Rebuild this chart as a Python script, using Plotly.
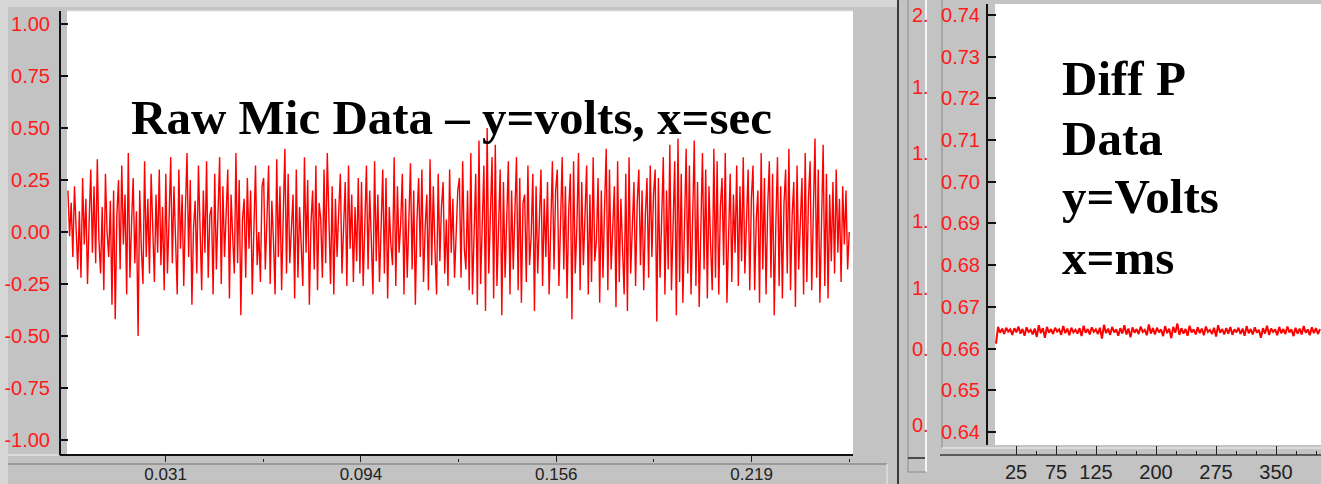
import numpy as np
import plotly.graph_objects as go

W, H = 1321, 484


def px(x):
    return x / W


def py(y):
    return 1 - y / H


# ---------------- data ----------------
mic_volts = [
    0.20, -0.02, 0.14, -0.12, 0.22, 0.02, -0.18, 0.10, -0.22, 0.26, -0.06, 0.16, -0.25, 0.05, 0.30,
    -0.10, 0.22, -0.15, 0.35, -0.04, -0.20, 0.12, -0.28, 0.28, 0.00, -0.12, 0.15, -0.35, 0.20, -0.42,
    0.08, 0.25, -0.18, 0.32, -0.06, 0.18, -0.30, 0.38, -0.22, 0.04, 0.26, -0.15, 0.10, -0.50, 0.20,
    -0.08, -0.25, 0.34, -0.12, 0.16, -0.20, 0.28, 0.02, -0.24, 0.18, -0.10, 0.30, -0.16, 0.12, -0.28,
    0.28, -0.20, 0.06, 0.36, -0.15, 0.22, -0.04, -0.30, 0.30, -0.08, 0.18, -0.26, 0.10, 0.38, -0.12,
    0.25, -0.35, 0.02, 0.15, -0.20, 0.32, -0.06, -0.28, 0.20, -0.10, 0.34, -0.22, 0.08, 0.12, -0.30,
    0.28, -0.18, 0.04, 0.36, -0.25, 0.22, -0.12, 0.14, 0.30, -0.32, 0.18, -0.02, -0.20, 0.38, -0.15,
    0.25, -0.40, 0.06, 0.16, -0.22, 0.26, -0.08, 0.20, -0.30, 0.10, 0.32, -0.16, 0.00, -0.24, 0.22,
    0.26, -0.18, 0.06, 0.32, -0.25, 0.15, -0.04, -0.30, 0.35, -0.12, 0.22, -0.28, 0.08, 0.40, -0.20,
    0.28, -0.15, 0.02, 0.18, -0.32, 0.30, -0.22, 0.12, -0.06, -0.26, 0.36, -0.10, 0.25, -0.35, 0.04,
    0.20, -0.18, 0.32, -0.28, 0.14, 0.06, -0.22, 0.30, -0.15, 0.38, -0.02, -0.25, 0.22, -0.30, 0.16,
    -0.12, 0.10, 0.28, -0.20, 0.02, 0.24, -0.26, 0.32, -0.08, 0.18, -0.24, 0.12, -0.14, 0.26, -0.20,
    0.24, -0.26, 0.08, 0.32, -0.18, 0.20, -0.04, -0.30, 0.34, -0.14, 0.18, -0.24, 0.02, 0.30, -0.20,
    0.26, -0.32, 0.12, -0.06, -0.16, 0.36, -0.26, 0.22, -0.10, 0.04, 0.28, -0.30, 0.16, -0.22, 0.10,
    0.33, -0.18, 0.20, -0.35, 0.06, 0.26, -0.12, 0.30, -0.24, 0.02, 0.18, -0.28, 0.35, -0.16, 0.22,
    -0.08, -0.30, 0.28, -0.14, 0.12, 0.24, -0.20, 0.06, -0.26, 0.30, -0.10, 0.16, -0.22, 0.04, 0.20,
    0.26, -0.22, 0.34, -0.08, -0.18, 0.20, -0.28, 0.38, -0.30, 0.06, 0.28, -0.35, 0.44, -0.25, 0.12,
    0.32, -0.38, 0.50, -0.20, 0.04, 0.36, -0.32, 0.42, -0.26, 0.10, 0.30, -0.40, 0.24, -0.22, 0.02,
    0.34, -0.30, 0.20, -0.18, 0.08, 0.36, -0.28, 0.26, -0.34, 0.14, 0.18, -0.24, 0.32, -0.16, -0.02,
    0.28, -0.38, 0.22, -0.20, 0.10, 0.30, -0.26, 0.16, -0.12, 0.24, -0.30, 0.06, 0.34, -0.18, 0.20,
    0.30, -0.26, 0.04, 0.36, -0.18, 0.22, -0.32, 0.10, 0.28, -0.42, 0.34, -0.20, 0.02, 0.38, -0.28,
    0.24, -0.16, 0.08, 0.32, -0.30, 0.18, -0.24, 0.36, -0.14, -0.04, 0.26, -0.34, 0.20, -0.22, 0.12,
    0.40, -0.28, 0.30, -0.18, 0.06, 0.22, -0.36, 0.34, -0.24, 0.16, -0.08, -0.30, 0.28, -0.38, 0.36,
    -0.20, 0.02, 0.24, -0.26, 0.14, 0.30, -0.16, 0.20, -0.28, 0.08, 0.26, -0.22, 0.32, -0.12, 0.18,
    0.30, -0.43, 0.26, -0.22, 0.06, 0.36, -0.30, 0.20, -0.18, 0.42, -0.28, 0.10, 0.34, -0.40, 0.45,
    -0.24, 0.28, -0.34, 0.02, 0.40, -0.20, 0.32, -0.30, 0.14, 0.44, -0.26, 0.24, -0.36, 0.08, 0.38,
    -0.18, 0.30, -0.32, 0.22, -0.06, -0.28, 0.40, -0.22, 0.34, -0.30, 0.12, 0.26, -0.16, 0.38, -0.34,
    0.04, 0.28, -0.24, 0.18, -0.10, 0.32, -0.26, 0.22, -0.14, 0.36, -0.20, 0.10, 0.30, -0.28, 0.16,
    0.32, -0.28, 0.06, 0.20, -0.34, 0.38, -0.18, 0.26, -0.30, 0.12, 0.34, -0.22, 0.28, -0.40, 0.04,
    0.36, -0.26, 0.22, -0.32, 0.14, 0.30, -0.20, 0.40, -0.28, 0.08, 0.24, -0.36, 0.32, -0.18, 0.02,
    0.26, -0.30, 0.38, -0.24, 0.16, 0.34, -0.28, 0.10, 0.45, -0.22, 0.30, -0.34, 0.06, 0.42, -0.26,
    0.28, -0.32, 0.18, -0.14, 0.24, -0.20, 0.30, -0.10, 0.16, -0.24, 0.22, -0.06, 0.20, -0.18, 0.00,
]
mic_time = np.linspace(0.0, 0.25, len(mic_volts))

diffp_volts = [
    0.6612, 0.6652, 0.6638, 0.6648, 0.6635, 0.6650, 0.6641, 0.6646, 0.6633, 0.6649,
    0.6639, 0.6653, 0.6636, 0.6647, 0.6631, 0.6651, 0.6640, 0.6645, 0.6634, 0.6648,
    0.6628, 0.6656, 0.6637, 0.6649, 0.6626, 0.6652, 0.6638, 0.6647, 0.6635, 0.6650,
    0.6641, 0.6646, 0.6633, 0.6654, 0.6637, 0.6648, 0.6632, 0.6650, 0.6639, 0.6645,
    0.6636, 0.6649, 0.6630, 0.6655, 0.6638, 0.6647, 0.6634, 0.6651, 0.6640, 0.6646,
    0.6635, 0.6650, 0.6624, 0.6657, 0.6637, 0.6648, 0.6633, 0.6652, 0.6639, 0.6646,
    0.6631, 0.6649, 0.6636, 0.6656, 0.6634, 0.6648, 0.6627, 0.6651, 0.6638, 0.6647,
    0.6635, 0.6653, 0.6640, 0.6645, 0.6632, 0.6658, 0.6636, 0.6649, 0.6634, 0.6650,
    0.6639, 0.6646, 0.6630, 0.6654, 0.6637, 0.6648, 0.6625, 0.6652, 0.6638, 0.6660,
    0.6633, 0.6649, 0.6636, 0.6647, 0.6631, 0.6655, 0.6639, 0.6646, 0.6634, 0.6651,
    0.6637, 0.6648, 0.6632, 0.6653, 0.6640, 0.6645, 0.6635, 0.6650, 0.6629, 0.6656,
    0.6638, 0.6647, 0.6634, 0.6649, 0.6636, 0.6652, 0.6633, 0.6646, 0.6639, 0.6650,
    0.6635, 0.6648, 0.6631, 0.6654, 0.6637, 0.6647, 0.6634, 0.6651, 0.6638, 0.6645,
    0.6626, 0.6649, 0.6636, 0.6655, 0.6633, 0.6648, 0.6640, 0.6646, 0.6632, 0.6652,
    0.6637, 0.6647, 0.6635, 0.6653, 0.6639, 0.6646, 0.6630, 0.6650, 0.6636, 0.6648,
    0.6634, 0.6654, 0.6638, 0.6646, 0.6632, 0.6651, 0.6637, 0.6649, 0.6635, 0.6647,
]
diffp_ms = np.linspace(0.0, 405.0, len(diffp_volts))

mic_yticks = [1.0, 0.75, 0.5, 0.25, 0.0, -0.25, -0.5, -0.75, -1.0]
mic_ytext = ["1.00", "0.75", "0.50", "0.25", "0.00", "-0.25", "-0.50", "-0.75", "-1.00"]
mic_xticks = [0.03125, 0.09375, 0.15625, 0.21875]
mic_xtext = ["0.031", "0.094", "0.156", "0.219"]
mic_xminor = [0.0625, 0.125, 0.1875, 0.25]

diffp_yticks = [0.74, 0.73, 0.72, 0.71, 0.70, 0.69, 0.68, 0.67, 0.66, 0.65, 0.64]
diffp_ytext = ["0.74", "0.73", "0.72", "0.71", "0.70", "0.69", "0.68", "0.67", "0.66", "0.65", "0.64"]
diffp_xticks = [25, 75, 125, 200, 275, 350]
diffp_xtext = ["25", "75", "125", "200", "275", "350"]
diffp_xminor = [50, 100, 150, 175, 225, 250, 300, 325, 375, 400]

side_labels = ["2.", "1.", "1.", "1.", "1.", "0.", "0."]

title_left = "Raw Mic Data \u2013 y=volts, x=sec"
title_right = ["Diff P", "Data", "y=Volts", "x=ms"]

# ---------------- figure ----------------
RED = "#ff1a1a"
PANEL = "#c3c3c3"
TICKFONT = "Liberation Sans"
TSIZE = 20

fig = go.Figure()
fig.add_trace(go.Scatter(x=mic_time, y=mic_volts, mode="lines",
                         line=dict(color="#ff0000", width=1.4),
                         xaxis="x", yaxis="y", showlegend=False, hoverinfo="skip"))
fig.add_trace(go.Scatter(x=diffp_ms, y=diffp_volts, mode="lines",
                         line=dict(color="#ff0000", width=2),
                         xaxis="x2", yaxis="y2", showlegend=False, hoverinfo="skip"))

shapes = []


def rect(x0, y0, x1, y1, fill):
    shapes.append(dict(type="rect", xref="paper", yref="paper", layer="below",
                       x0=px(x0), x1=px(x1), y0=py(y1), y1=py(y0),
                       fillcolor=fill, line=dict(width=0)))


def seg(x0, y0, x1, y1, color, width=1):
    shapes.append(dict(type="line", xref="paper", yref="paper", layer="below",
                       x0=px(x0), x1=px(x1), y0=py(y0), y1=py(y1),
                       line=dict(color=color, width=width)))


# panels
rect(8, 7, 898, 484, PANEL)
rect(898, 0, 1321, 484, PANEL)
# plot areas
rect(67, 11, 853, 455, "white")
rect(995, 4, 1321, 445, "white")
# frame / separator lines
seg(67, 11, 853, 11, "#e6e6e6", 1)
seg(60, 455, 853, 455, "#111111", 2)
seg(8, 455, 58, 455, "#f2f2f2", 1)
seg(8, 464, 887, 464, "#707070", 1)
seg(887, 464, 887, 484, "#eeeeee", 1)
seg(898, 0, 898, 484, "#3a3a3a", 2)
seg(908, 0, 908, 472, "#8a8a8a", 1)
seg(926, 0, 926, 472, "#f6f6f6", 2)
seg(908, 458, 925, 458, "#222222", 1.5)
seg(908, 472, 926, 472, "#8a8a8a", 1)
seg(942, 0, 942, 448, "#8a8a8a", 1)
seg(942, 448, 1321, 448, "#f2f2f2", 1)
seg(940, 455, 1321, 455, "#3a3a3a", 1.5)

annotations = []
annotations.append(dict(xref="paper", yref="paper", x=px(129), y=py(117),
                        xanchor="left", yanchor="middle", showarrow=False,
                        text=title_left,
                        font=dict(family="Liberation Serif", size=49, color="black", weight=700)))
right_line_y = [78, 138, 197, 257]
for txt, yy in zip(title_right, right_line_y):
    annotations.append(dict(xref="paper", yref="paper", x=px(1060), y=py(yy),
                            xanchor="left", yanchor="middle", showarrow=False, text=txt,
                            font=dict(family="Liberation Serif", size=49, color="black", weight=700)))
side_label_y = [15, 87, 153, 221, 288, 349, 425]
for txt, yy in zip(side_labels, side_label_y):
    annotations.append(dict(xref="paper", yref="paper", x=px(910), y=py(yy),
                            xanchor="left", yanchor="middle", showarrow=False, text=txt,
                            font=dict(family=TICKFONT, size=TSIZE, color=RED)))

fig.update_layout(
    width=W, height=H,
    margin=dict(l=0, r=0, t=0, b=0, pad=0, autoexpand=False),
    paper_bgcolor="#d7d7d7",
    plot_bgcolor="rgba(0,0,0,0)",
    shapes=shapes,
    annotations=annotations,
    xaxis=dict(domain=[px(67), px(853)], anchor="free", position=py(462), automargin=False,
               range=[-0.0003, 0.2512], showgrid=False, zeroline=False,
               showline=False, ticks="inside", ticklen=7, tickwidth=1.2, tickcolor="#222",
               tickmode="array", tickvals=mic_xticks, ticktext=mic_xtext,
               ticklabelstandoff=0,
               tickfont=dict(family=TICKFONT, size=17, color="#222"),
               minor=dict(ticks="inside", ticklen=3, tickwidth=1.2, tickcolor="#222",
                          tickmode="array", tickvals=mic_xminor)),
    yaxis=dict(domain=[py(455), py(11)], anchor="free", position=px(60), automargin=False,
               range=[-1.0723, 1.0627], showgrid=False, zeroline=False,
               showline=True, linecolor="#111", linewidth=2,
               ticks="inside", ticklen=7, tickwidth=1.5, tickcolor="#111",
               tickmode="array", tickvals=mic_yticks, ticktext=mic_ytext,
               ticklabelstandoff=5,
               tickfont=dict(family=TICKFONT, size=TSIZE, color=RED)),
    xaxis2=dict(domain=[px(995), 1.0], anchor="free", position=py(455), automargin=False,
                range=[-1.25, 406.25], showgrid=False, zeroline=False,
                showline=False, ticks="inside", ticklen=9, tickwidth=1.2, tickcolor="#222",
                tickmode="array", tickvals=diffp_xticks, ticktext=diffp_xtext,
                ticklabelstandoff=3,
                tickfont=dict(family=TICKFONT, size=TSIZE, color="#222"),
                minor=dict(ticks="inside", ticklen=4, tickwidth=1.2, tickcolor="#222",
                           tickmode="array", tickvals=diffp_xminor)),
    yaxis2=dict(domain=[py(445), py(4)], anchor="free", position=px(987), automargin=False,
                range=[0.6369, 0.7426], showgrid=False, zeroline=False,
                showline=True, linecolor="#111", linewidth=2,
                ticks="inside", ticklen=8, tickwidth=1.5, tickcolor="#111",
                tickmode="array", tickvals=diffp_yticks, ticktext=diffp_ytext,
                ticklabelstandoff=2,
                tickfont=dict(family=TICKFONT, size=TSIZE, color=RED)),
)

fig.write_html("out.html")
